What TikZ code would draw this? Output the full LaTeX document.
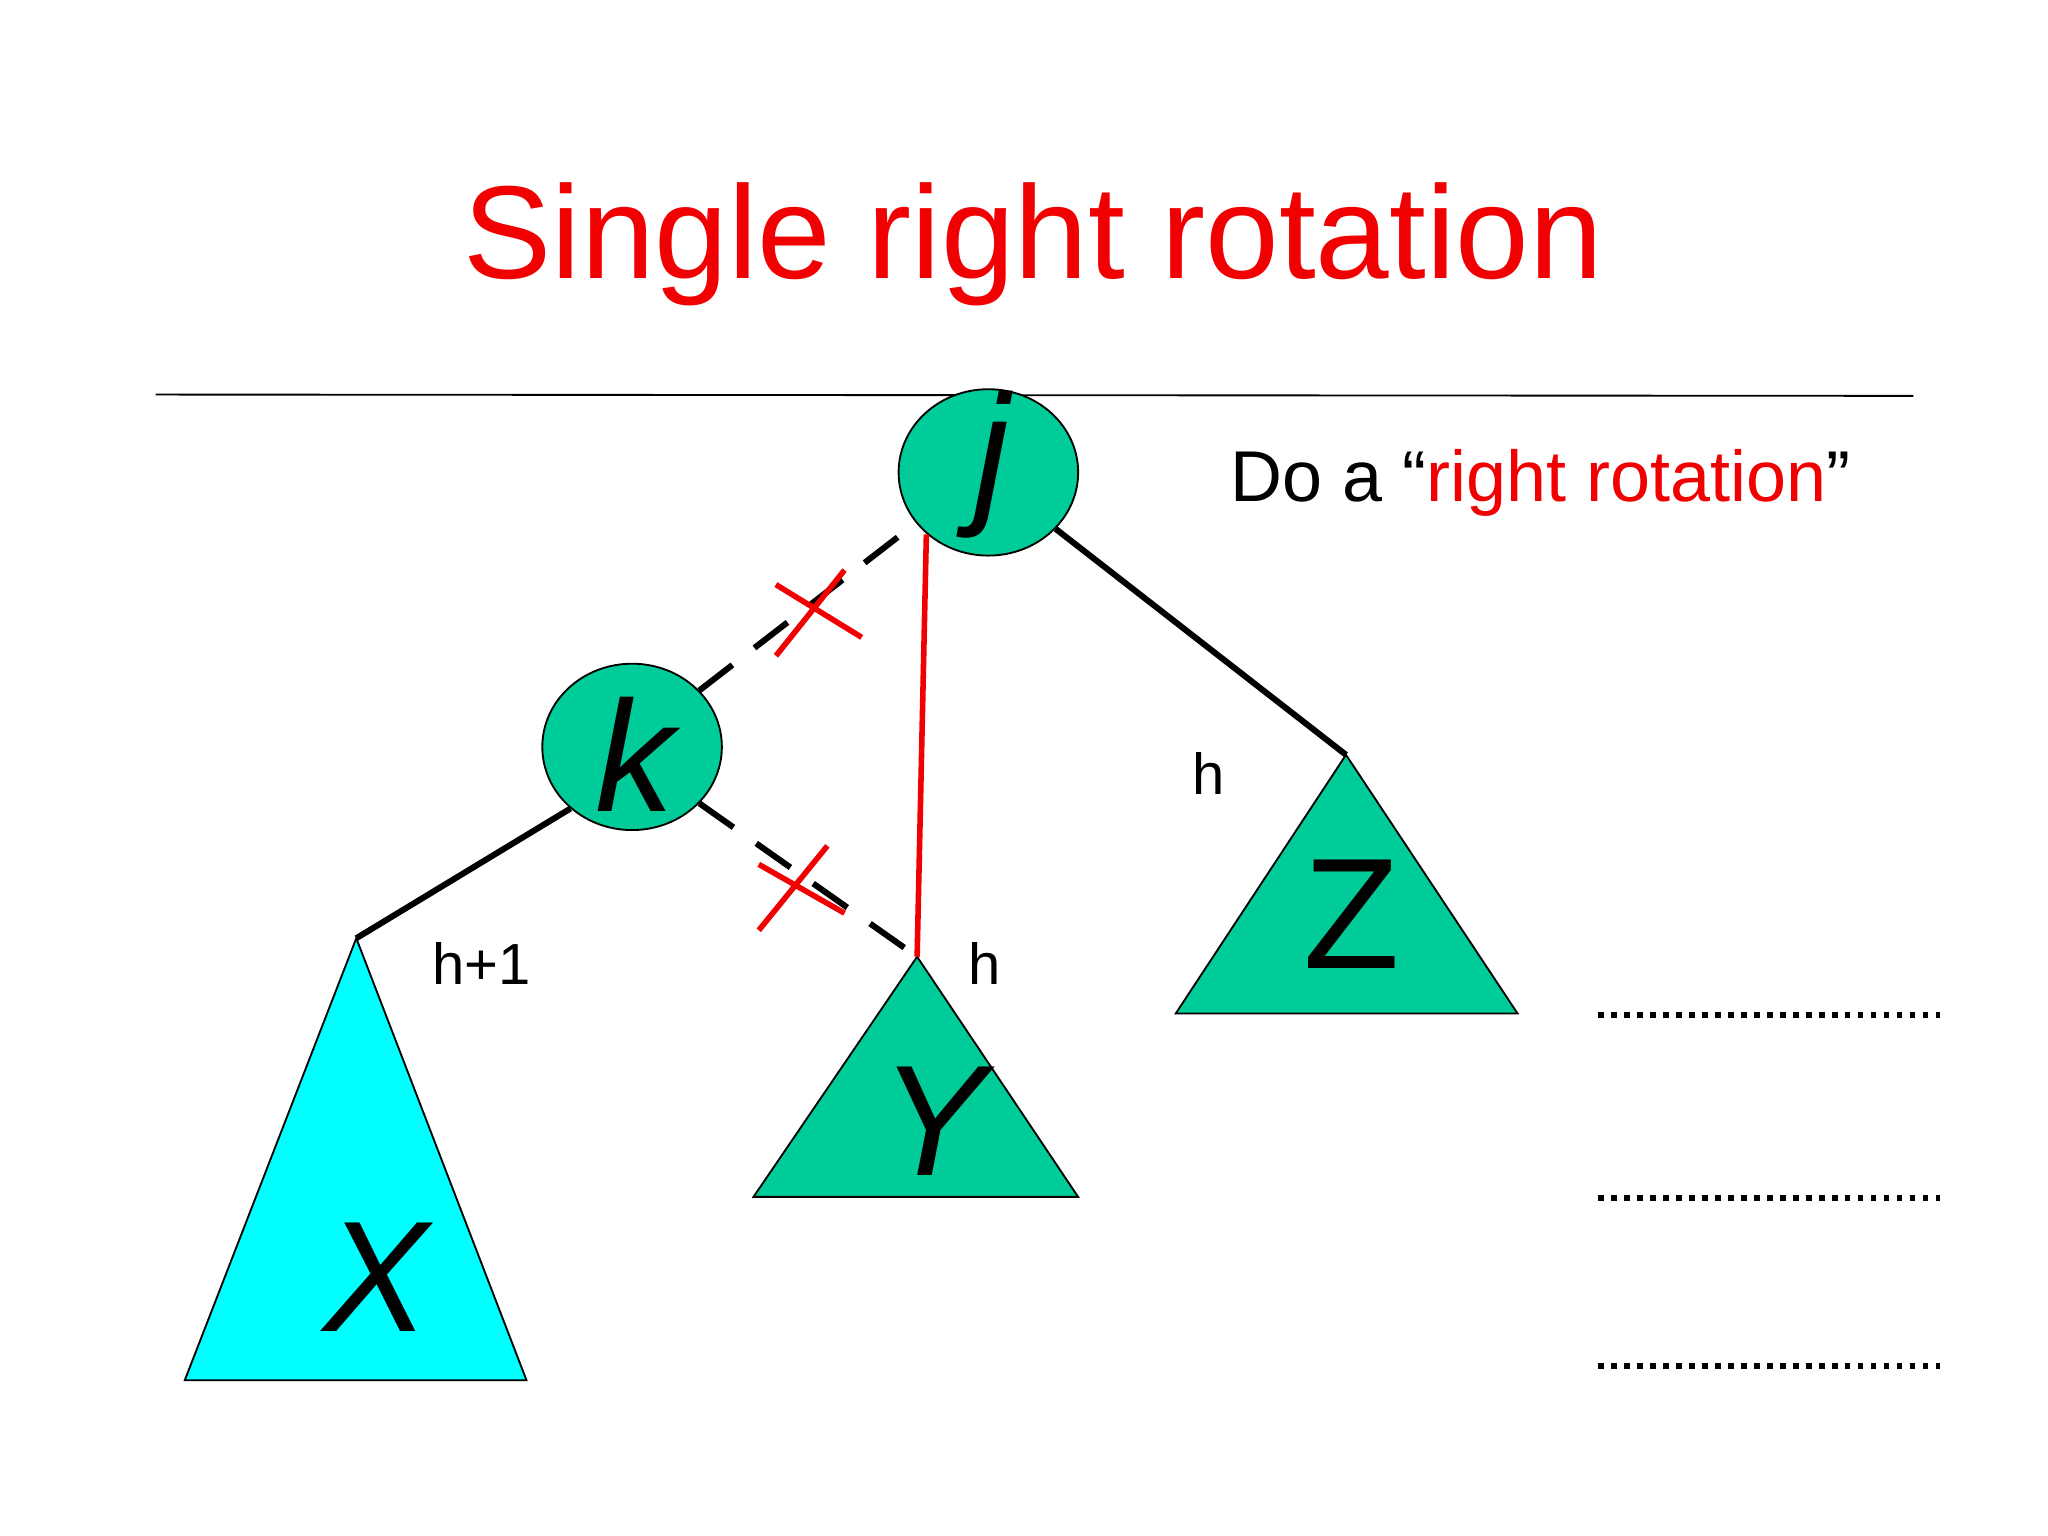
\documentclass[tikz,border=0pt]{standalone}
\usepackage{fontspec}
\setmainfont{Liberation Sans}
\definecolor{teal1}{RGB}{0,204,153}
\definecolor{cyan1}{RGB}{0,255,255}
\definecolor{red1}{RGB}{240,0,0}
\begin{document}
\begin{tikzpicture}[x=0.01cm,y=-0.01cm,
  nodeell/.style={ellipse,draw,fill=teal1,minimum width=1.36cm,minimum height=1.26cm,inner sep=0pt},
  tri/.style={draw,thin},
  bigl/.style={font=\fontsize{34}{34}\selectfont},
  lbl/.style={font=\fontsize{12.5}{14}\selectfont},
  edge/.style={line width=1.3pt},
  dedge/.style={line width=1.3pt,dash pattern=on 9pt off 6pt},
  cross/.style={red1,line width=1.2pt},
  dots/.style={line width=1.2pt,dash pattern=on 1.2pt off 1.6pt}]
\useasboundingbox (0,0) rectangle (1552,1164);
\usetikzlibrary{shapes.geometric}
\node[text=red1,font=\fontsize{28.5}{30}\selectfont] (title) at (783,185) {Single right rotation};
\coordinate (l1) at (118,299); \coordinate (l2) at (1450,300);
\draw[thin] (l1) -- (l2);
% triangles
\coordinate (za) at (1020,572); \coordinate (zb) at (891,768); \coordinate (zc) at (1150,768);
\draw[tri,fill=teal1] (za) -- (zb) -- (zc) -- cycle;
\coordinate (ya) at (695,725); \coordinate (yb) at (571,907); \coordinate (yc) at (817,907);
\draw[tri,fill=teal1] (ya) -- (yb) -- (yc) -- cycle;
\coordinate (xa) at (270,711); \coordinate (xb) at (140,1046); \coordinate (xc) at (399,1046);
\draw[tri,fill=cyan1] (xa) -- (xb) -- (xc) -- cycle;
\node[bigl] (Z) at (1024,693) {Z};
\node[bigl] (Y) at (707,850) {\itshape Y};
\node[bigl] (X) at (285,968) {\itshape X};
% nodes
\node[nodeell] (j) at (749,358) {};
\node[nodeell] (k) at (479,566) {};
\node[bigl] (jt) at (752,352) {\itshape j};
\node[bigl] (kt) at (481,572) {\itshape k};
% edges
\draw[edge] (j.-40) -- (za);
\draw[edge] (k.-135) -- (xa);
\draw[dedge] (k.40) -- (j.-145);
\draw[dedge] (k.-40) -- (ya);
\coordinate (rs) at (702,405);
\draw[red1,line width=1.2pt] (rs) -- (ya);
% crosses
\coordinate (c1) at (588,497); \coordinate (c2) at (640,432);
\coordinate (c3) at (588,443); \coordinate (c4) at (653,483);
\draw[cross] (c1) -- (c2); \draw[cross] (c3) -- (c4);
\coordinate (c5) at (575,705); \coordinate (c6) at (627,641);
\coordinate (c7) at (575,655); \coordinate (c8) at (640,692);
\draw[cross] (c5) -- (c6); \draw[cross] (c7) -- (c8);
% labels
\node[lbl] (h1) at (916,586) {h};
\node[lbl] (h2) at (365,730) {h+1};
\node[lbl] (h3) at (746,730) {h};
\node[anchor=west,font=\fontsize{15.5}{17}\selectfont] (doa) at (920,366) {Do a “\textcolor{red1}{right rotation}”};
% dotted lines
\foreach \yy/\n in {769/a,908/b,1035/c}{
  \coordinate (d\n1) at (1211,\yy); \coordinate (d\n2) at (1470,\yy);
  \draw[dots] (d\n1) -- (d\n2);}
\end{tikzpicture}
\end{document}
